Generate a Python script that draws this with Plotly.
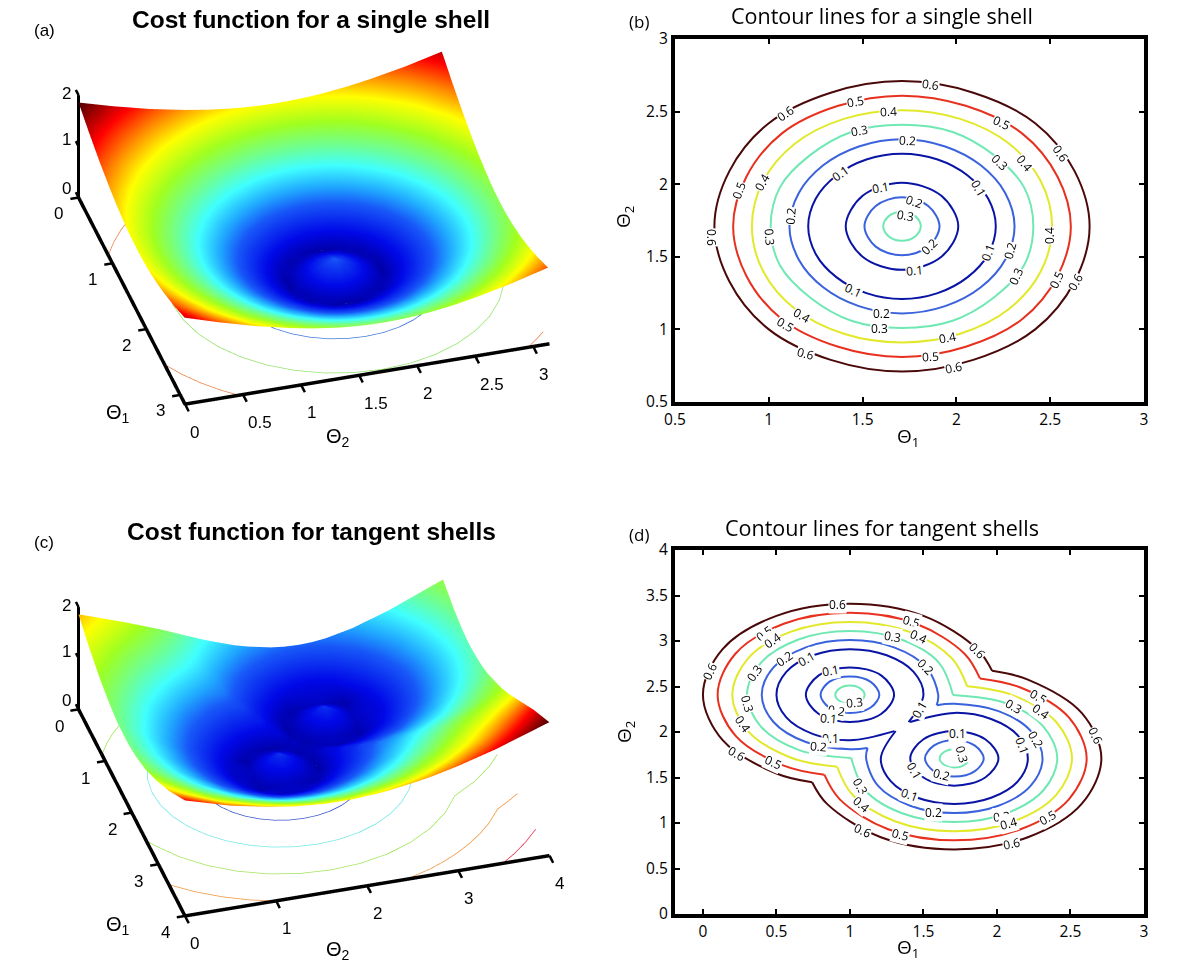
import plotly.graph_objects as go

# ---------- panel (a): surface samples ----------
a_theta1 = [0, .29, .61, .91, 1.11, 1.31, 1.41, 1.51, 1.61, 1.71, 1.81, 1.91, 2.01, 2.11, 2.31, 2.51, 2.81, 3.13]
a_theta2 = [0, .29, .61, .91, 1.11, 1.31, 1.41, 1.51, 1.61, 1.71, 1.81, 1.91, 2.01, 2.11, 2.31, 2.51, 2.81, 3.13]
a_r000 = [1.205,.938,.644,.368,.184,0,.092,.184,.276,.368,.276,.184,.092,0,.184,.368,.644,.938]
a_r010 = [1.208,.942,.648,.374,.191,.011,.077,.162,.238,.276,.238,.162,.077,.011,.191,.374,.648,.942]
a_r020 = [1.216,.951,.661,.391,.214,.043,.036,.108,.162,.184,.162,.108,.036,.043,.214,.391,.661,.951]
a_r030 = [1.229,.967,.681,.418,.249,.092,.022,.036,.077,.092,.077,.036,.022,.092,.249,.418,.681,.967]
a_r040 = [1.248,.989,.709,.455,.295,.153,.092,.043,.011,0,.011,.043,.092,.153,.295,.455,.709,.989]
a_r060 = [1.299,1.05,.785,.552,.413,.295,.249,.214,.191,.184,.191,.214,.249,.295,.413,.552,.785,1.05]
a_r080 = [1.37,1.132,.883,.673,.552,.455,.418,.391,.374,.368,.374,.391,.418,.455,.552,.673,.883,1.132]
a_r110 = [1.502,1.284,1.063,.883,.785,.709,.681,.661,.648,.644,.648,.661,.681,.709,.785,.883,1.063,1.284]
a_r142 = [1.677,1.479,1.284,1.132,1.05,.989,.967,.951,.942,.938,.942,.951,.967,.989,1.05,1.132,1.284,1.479]
a_r171 = [1.857,1.677,1.502,1.37,1.299,1.248,1.229,1.216,1.208,1.205,1.208,1.216,1.229,1.248,1.299,1.37,1.502,1.677]
cost_a = [a_r171, a_r142, a_r110, a_r080, a_r060, a_r040, a_r030, a_r020, a_r010, a_r000,
          a_r010, a_r020, a_r030, a_r040, a_r060, a_r080, a_r110, a_r142]

# ---------- panel (c): surface samples ----------
c_theta1 = [0,.4,.7,.85,1.0,1.15,1.3,1.45,1.56,1.71,1.86,2.01,2.2,2.5,2.9,3.4,4]
c_theta2 = [0,.5,.9,1.2,1.4,1.56,1.71,1.86,2.0,2.11,2.26,2.41,2.56,2.71,3.0,3.4,4]
c_y000 = [1.86,1.61,1.46,1.39,1.34,1.29,1.25,1.22,1.21,1.21,1.21,1.23,1.27,1.36,1.55,1.84,2.26]
c_y050 = [1.56,1.27,1.08,1.00,.92,.86,.81,.77,.75,.75,.75,.78,.83,.96,1.19,1.54,2.01]
c_y090 = [1.30,1.05,.82,.72,.62,.54,.47,.41,.39,.38,.39,.43,.50,.67,.96,1.36,1.87]
c_y120 = [1.08,.87,.67,.55,.44,.33,.23,.16,.12,.10,.12,.18,.28,.50,.82,1.26,1.79]
c_y140 = [.94,.71,.60,.47,.34,.22,.10,.00,.05,.08,.05,.03,.17,.41,.76,1.21,1.76]
c_y156 = [.84,.59,.46,.43,.30,.17,.03,.09,.17,.23,.17,.06,.10,.37,.74,1.19,1.74]
c_y171 = [.75,.48,.33,.29,.28,.15,.01,.13,.23,.37,.23,.09,.08,.36,.73,1.19,1.74]
c_y186 = [.68,.38,.21,.16,.14,.16,.03,.09,.17,.23,.17,.06,.10,.37,.74,1.19,1.74]
c_y200 = [.63,.30,.10,.03,.01,.03,.09,.01,.07,.10,.07,.02,.16,.41,.76,1.21,1.76]
c_y211 = [.59,.25,.02,.06,.09,.06,.02,.07,.02,.00,.02,.09,.21,.45,.79,1.23,1.77]
c_y226 = [.56,.20,.06,.17,.23,.17,.06,.07,.16,.14,.16,.21,.31,.52,.84,1.27,1.80]
c_y241 = [.55,.18,.09,.23,.37,.23,.09,.05,.15,.28,.29,.33,.42,.60,.90,1.31,1.84]
c_y256 = [.56,.20,.06,.17,.23,.17,.06,.07,.17,.30,.43,.46,.53,.70,.98,1.37,1.88]
c_y271 = [.59,.25,.02,.06,.09,.06,.02,.13,.22,.34,.47,.59,.66,.80,1.06,1.44,1.93]
c_y300 = [.70,.41,.24,.19,.17,.19,.24,.31,.38,.48,.59,.71,.86,1.02,1.25,1.59,2.05]
c_y340 = [.93,.70,.58,.55,.54,.55,.58,.63,.68,.75,.84,.93,1.06,1.29,1.53,1.83,2.25]
c_y400 = [1.36,1.20,1.12,1.10,1.09,1.10,1.12,1.15,1.18,1.23,1.30,1.37,1.46,1.64,1.91,2.25,2.61]
cost_c = [c_y000,c_y050,c_y090,c_y120,c_y140,c_y156,c_y171,c_y186,c_y200,c_y211,c_y226,c_y241,c_y256,c_y271,c_y300,c_y340,c_y400]

# ---------- tick values ----------
a_t1 = [0, 1, 2, 3]
a_t2 = [0, .5, 1, 1.5, 2, 2.5, 3]
c_t1 = [0, 1, 2, 3, 4]
c_t2 = [0, 1, 2, 3, 4]
z_ticks = [0, 1, 2]

# ---------- floor contours of the 3-D panels ----------
floor_09_x = [1.553,1.71,1.867,2.018,2.16,2.289,2.399,2.489,2.556,2.597,2.61,2.597,2.556,2.489,2.399,2.289]
floor_09_y = [.824,.81,.824,.864,.93,1.021,1.131,1.26,1.402,1.553,1.71,1.867,2.018,2.16,2.289,2.399]
floor_14_x = [1.71,1.954,2.189,2.41,2.61,2.782,2.922,3.026,3.089,3.11,3.089,3.026,2.922,2.782,2.61,2.41,2.189,1.954,1.71,1.466,1.231]
floor_14_y = [3.11,3.089,3.026,2.922,2.782,2.61,2.41,2.189,1.954,1.71,1.466,1.231,1.01,.81,.638,.498,.394,.331,.31,.331,.394]
a_or1_x = [2.54,2.717,2.88,3.03,3.14]
a_or1_y = [0,.099,.213,.344,.464]
a_or2_x = [3.14,3.05,2.956]
a_or2_y = [2.956,3.05,3.14]
left_19_x = [.877,.703,.54,.39,.254]
left_19_y = [0,.099,.213,.344,.488]
c_gr_x = [2.54,2.66,2.932,3.165,3.355,3.496,3.581,3.61,3.581,3.496,3.355,3.165,2.932,2.651,2.455,2.221,2.04]
c_gr_y = [0,.065,.255,.489,.76,1.06,1.379,1.71,2.041,2.36,2.66,2.931,3.165,3.356,3.631,3.865,4]
c_or1_x = [3.395,3.601,3.767,3.903,4]
c_or1_y = [0,.232,.474,.733,.99]
c_or2_x = [4,3.885,3.788,3.676,3.548,3.407,3.253,3.015,2.917,2.798]
c_or2_y = [2.43,2.725,2.91,3.087,3.253,3.407,3.548,3.72,3.855,4]
c_red_x = [4,3.865,3.688,3.487]
c_red_y = [3.487,3.65,3.83,4]

# ---------- panel (b) contours ----------
b06_x = [2.71,2.63,2.42,2.09,1.71,1.33,1.00,.79,.71,.79,1.00,1.33,1.71,2.09,2.42,2.63,2.71]
b06_y = [1.71,2.09,2.42,2.63,2.71,2.63,2.42,2.09,1.71,1.33,1.00,.79,.71,.79,1.00,1.33,1.71]
b05_x = [2.61,2.54,2.35,2.05,1.71,1.37,1.07,.88,.81,.88,1.07,1.37,1.71,2.05,2.35,2.54,2.61]
b05_y = [1.71,2.05,2.35,2.54,2.61,2.54,2.35,2.05,1.71,1.37,1.07,.88,.81,.88,1.07,1.37,1.71]
b04_x = [2.51,2.45,2.28,2.02,1.71,1.40,1.14,.97,.91,.97,1.14,1.40,1.71,2.02,2.28,2.45,2.51]
b04_y = [1.71,2.02,2.28,2.45,2.51,2.45,2.28,2.02,1.71,1.40,1.14,.97,.91,.97,1.14,1.40,1.71]
b03_x = [2.41,2.36,2.20,1.98,1.71,1.44,1.22,1.06,1.01,1.06,1.22,1.44,1.71,1.98,2.20,2.36,2.41]
b03_y = [1.71,1.98,2.20,2.36,2.41,2.36,2.20,1.98,1.71,1.44,1.22,1.06,1.01,1.06,1.22,1.44,1.71]
b02_x = [2.31,2.26,2.13,1.94,1.71,1.48,1.29,1.16,1.11,1.16,1.29,1.48,1.71,1.94,2.13,2.26,2.31]
b02_y = [1.71,1.94,2.13,2.26,2.31,2.26,2.13,1.94,1.71,1.48,1.29,1.16,1.11,1.16,1.29,1.48,1.71]
b01_x = [2.21,2.17,2.06,1.90,1.71,1.52,1.36,1.25,1.21,1.25,1.36,1.52,1.71,1.90,2.06,2.17,2.21]
b01_y = [1.71,1.90,2.06,2.17,2.21,2.17,2.06,1.90,1.71,1.52,1.36,1.25,1.21,1.25,1.36,1.52,1.71]
in01_x = [2.01,1.92,1.71,1.50,1.41,1.50,1.71,1.92,2.01]
in01_y = [1.71,1.92,2.01,1.92,1.71,1.50,1.41,1.50,1.71]
in02_x = [1.91,1.85,1.71,1.57,1.51,1.57,1.71,1.85,1.91]
in02_y = [1.71,1.85,1.91,1.85,1.71,1.57,1.51,1.57,1.71]
in03_x = [1.81,1.78,1.71,1.64,1.61,1.64,1.71,1.78,1.81]
in03_y = [1.71,1.78,1.81,1.78,1.71,1.64,1.61,1.64,1.71]

b_lab_x = [1.863,1.088,1.463,1.637,1.484,1.74,1.381,1.596,1.775,1.73,2.119,2.238,2.232,2.365,2.555,.842,.965,1.115,.695,1.002,2.50,2.285,2.17,1.857,1.775,2.318,2.535,2.637,1.453,1.602,1.592,1.176,1.088,1.955,1.863,1.193,1.986]
b_lab_y = [2.69,2.487,2.568,2.499,2.368,2.30,2.074,1.977,1.883,1.787,1.971,2.423,2.148,2.143,2.212,1.954,2.01,1.78,1.633,1.637,1.644,1.545,1.527,1.569,1.408,1.362,1.343,1.327,1.27,1.109,1.005,1.093,1.035,.941,.81,.833,.741]
b_lab_t = ["0.6","0.6","0.5","0.4","0.3","0.2","0.1","0.1","0.2","0.3","0.1","0.5","0.3","0.4","0.6","0.5","0.4","0.2","0.6","0.3","0.4","0.2","0.1","0.2","0.1","0.3","0.5","0.6","0.1","0.2","0.3","0.4","0.5","0.4","0.5","0.6","0.6"]
b_lab_a = [8,-35,-10,-3,-10,3,-35,-10,20,10,60,25,45,50,55,-70,-60,-85,90,85,-90,-75,-70,-45,-5,-65,-65,-60,25,0,0,30,30,-10,-3,15,-12]

# ---------- panel (d) contours: arcs meeting at the notches ----------
d06a_x = [1.967,1.866,1.5,1,.5,.134,0,.134,.5,.743]
d06a_y = [2.672,2.91,3.276,3.41,3.276,2.91,2.41,1.91,1.544,1.448]
d06b_x = [.743,.844,1.21,1.71,2.21,2.576,2.71,2.576,2.21,1.967]
d06b_y = [1.448,1.21,.844,.71,.844,1.21,1.71,2.21,2.576,2.672]
d05a_x = [1.884,1.779,1.45,1,.55,.221,.1,.221,.55,.826]
d05a_y = [2.589,2.86,3.189,3.31,3.189,2.86,2.41,1.96,1.631,1.531]
d05b_x = [.826,.931,1.26,1.71,2.16,2.489,2.61,2.489,2.16,1.884]
d05b_y = [1.531,1.26,.931,.81,.931,1.26,1.71,2.16,2.489,2.589]
d04a_x = [1.797,1.693,1.4,1,.6,.307,.2,.307,.6,.913]
d04a_y = [2.502,2.81,3.103,3.21,3.103,2.81,2.41,2.01,1.717,1.618]
d04b_x = [.913,1.017,1.31,1.71,2.11,2.403,2.51,2.403,2.11,1.797]
d04b_y = [1.618,1.31,1.017,.91,1.017,1.31,1.71,2.11,2.403,2.502]
d03a_x = [1.701,1.606,1.35,1,.65,.394,.3,.394,.65,1.009]
d03a_y = [2.406,2.76,3.016,3.11,3.016,2.76,2.41,2.06,1.804,1.714]
d03b_x = [1.009,1.104,1.36,1.71,2.06,2.316,2.41,2.316,2.06,1.701]
d03b_y = [1.714,1.36,1.104,1.01,1.104,1.36,1.71,2.06,2.316,2.406]
d02a_x = [1.59,1.6,1.52,1.3,1,.7,.48,.4,.48,.7,1,1.12]
d02a_y = [2.295,2.41,2.71,2.93,3.01,2.93,2.71,2.41,2.11,1.89,1.81,1.825]
d02b_x = [1.12,1.11,1.19,1.41,1.71,2.01,2.23,2.31,2.23,2.01,1.71,1.59]
d02b_y = [1.825,1.71,1.41,1.19,1.11,1.19,1.41,1.71,2.01,2.23,2.31,2.295]
d01a_x = [1.399,1.5,1.433,1.25,1,.75,.567,.5,.567,.75,1,1.301]
d01a_y = [2.109,2.41,2.66,2.843,2.91,2.843,2.66,2.41,2.16,1.977,1.91,2.01]
d01b_x = [1.311,1.21,1.277,1.46,1.71,1.96,2.143,2.21,2.143,1.96,1.71,1.409]
d01b_y = [2.011,1.71,1.46,1.277,1.21,1.277,1.46,1.71,1.96,2.143,2.21,2.11]
dA1_x = [1.3,1.212,1,.788,.7,.788,1,1.212,1.3]
dA1_y = [2.41,2.622,2.71,2.622,2.41,2.198,2.11,2.198,2.41]
dA2_x = [1.2,1.141,1,.859,.8,.859,1,1.141,1.2]
dA2_y = [2.41,2.551,2.61,2.551,2.41,2.269,2.21,2.269,2.41]
dA3_x = [1.1,1.07,1,.93,.9,.93,1,1.07,1.1]
dA3_y = [2.41,2.48,2.51,2.48,2.41,2.34,2.31,2.34,2.41]

d_lab_x = [.914,1.42,.417,.472,1.467,1.289,1.866,.555,.707,1.512,.045,.354,.87,1.032,.301,2.28,2.114,2.298,.909,.857,1.473,.267,2.67,1.729,2.264,2.172,.87,.786,.228,1.761,.482,1.438,1.622,1.072,1.402,1.079,1.569,2.03,2.345,2.075,1.087,1.341,2.101]
d_lab_y = [3.40,3.218,3.079,3.005,3.046,3.046,2.899,2.804,2.804,2.716,2.668,2.65,2.675,2.327,2.312,2.393,2.275,2.22,2.239,2.147,2.246,2.088,1.96,1.989,1.916,1.853,1.927,1.842,1.761,1.75,1.67,1.578,1.53,1.402,1.31,1.207,1.119,1.07,1.064,.998,.914,.877,.778]
d_lab_t = ["0.6","0.5","0.5","0.4","0.4","0.3","0.6","0.2","0.1","0.2","0.6","0.3","0.1","0.3","0.3","0.5","0.3","0.4","0.2","0.1","0.1","0.4","0.6","0.1","0.2","0.1","0.1","0.2","0.6","0.3","0.5","0.1","0.2","0.3","0.1","0.4","0.2","0.3","0.5","0.4","0.6","0.5","0.6"]
d_lab_a = [0,15,-35,-35,25,10,45,-35,-30,45,-65,-55,-10,-5,75,30,30,35,10,5,-60,55,65,0,60,70,0,5,30,75,25,60,15,60,20,40,0,-5,-30,-15,25,15,-12]

# ---------- styles ----------
C06, C05, C04, C03, C02, C01 = "#4a0808", "#e8301f", "#e2e82a", "#6fe8b4", "#3a62dc", "#0a14a4"
JET = [[0, "#0000a8"], [.08, "#0008e8"], [.2, "#1858f8"], [.27, "#20a8ff"], [.36, "#40ffff"], [.45, "#70ff90"],
       [.55, "#a0ff20"], [.66, "#ffff00"], [.75, "#ff9000"], [.86, "#ff0000"], [1, "#500000"]]
SANS = "Open Sans, Noto Sans, sans-serif"
HELV = "Liberation Sans, Arial, sans-serif"

fig = go.Figure()

def surf(x, y, z, scene):
    fig.add_trace(go.Surface(x=x, y=y, z=z, scene=scene, colorscale=JET, cmin=0,
                             cmax=max(max(r) for r in z), showscale=False, hoverinfo="skip",
                             lighting=dict(ambient=1, diffuse=0, specular=0, roughness=1, fresnel=0)))

def line3(x, y, z, scene, color, width):
    fig.add_trace(go.Scatter3d(x=x, y=y, z=z, scene=scene, mode="lines", hoverinfo="skip",
                               line=dict(color=color, width=width), showlegend=False))

def floor(x, y, scene, color):
    line3(x, y, [0] * len(x), scene, color, 1.5)

def ticks3(t1, t2, tz, end, scene, d1, d2, dz):
    xs, ys, zs = [], [], []
    for v in t1:
        xs += [v, v, None]; ys += [0, -d1, None]; zs += [0, 0, None]
    for v in t2:
        xs += [end, end + d2, None]; ys += [v, v, None]; zs += [0, 0, None]
    for v in tz:
        xs += [0, -dz, None]; ys += [0, 0, None]; zs += [v, v, None]
    line3(xs, ys, zs, scene, "black", 5)

surf(a_theta1, a_theta2, cost_a, "scene")
floor(floor_09_x, floor_09_y, "scene", "#3f78d8")
floor(floor_14_x, floor_14_y, "scene", "#93e36a")
floor(a_or1_x, a_or1_y, "scene", "#ef7f45")
floor(a_or2_x, a_or2_y, "scene", "#ef7f45")
floor(left_19_x, left_19_y, "scene", "#ef7f45")
line3([0, 3.14, 3.14], [0, 0, 3.14], [0, 0, 0], "scene", "black", 7)
line3([0, 0], [0, 0], [0, 2], "scene", "black", 6)
ticks3(a_t1, a_t2, z_ticks, 3.14, "scene", .07, .11, .08)

surf(c_theta1, c_theta2, cost_c, "scene2")
floor(floor_09_x, floor_09_y, "scene2", "#3a55c8")
floor(floor_14_x, floor_14_y, "scene2", "#72e8e8")
floor(c_gr_x, c_gr_y, "scene2", "#a0e458")
floor(left_19_x, left_19_y, "scene2", "#a0e458")
floor(c_or1_x, c_or1_y, "scene2", "#f0943c")
floor(c_or2_x, c_or2_y, "scene2", "#f0943c")
floor(c_red_x, c_red_y, "scene2", "#e0304a")
line3([0, 4, 4], [0, 0, 4], [0, 0, 0], "scene2", "black", 7)
line3([0, 0], [0, 0], [0, 2], "scene2", "black", 6)
ticks3(c_t1, c_t2, z_ticks, 4, "scene2", .09, .14, .1)

def contour(x, y, color, xa, ya):
    fig.add_trace(go.Scatter(x=x, y=y, xaxis=xa, yaxis=ya, mode="lines", hoverinfo="skip", showlegend=False,
                             line=dict(color=color, width=2, shape="spline", smoothing=1, simplify=False)))

for x, y, c in [(b06_x, b06_y, C06), (b05_x, b05_y, C05), (b04_x, b04_y, C04), (b03_x, b03_y, C03),
                (b02_x, b02_y, C02), (b01_x, b01_y, C01), (in01_x, in01_y, C01), (in02_x, in02_y, C02),
                (in03_x, in03_y, C03)]:
    contour(x, y, c, "x", "y")

for x, y, c in [(d06a_x, d06a_y, C06), (d06b_x, d06b_y, C06), (d05a_x, d05a_y, C05), (d05b_x, d05b_y, C05),
                (d04a_x, d04a_y, C04), (d04b_x, d04b_y, C04), (d03a_x, d03a_y, C03), (d03b_x, d03b_y, C03),
                (d02a_x, d02a_y, C02), (d02b_x, d02b_y, C02), (d01a_x, d01a_y, C01), (d01b_x, d01b_y, C01),
                (dA1_x, dA1_y, C01), (dA2_x, dA2_y, C02), (dA3_x, dA3_y, C03),
                (in01_x, in01_y, C01), (in02_x, in02_y, C02), (in03_x, in03_y, C03)]:
    contour(x, y, c, "x2", "y2")

ann = []
def labels(xs, ys, ts, ags, xr, yr):
    for x, y, t, a in zip(xs, ys, ts, ags):
        ann.append(dict(x=x, y=y, xref=xr, yref=yr, text=t, textangle=a, showarrow=False, bgcolor="white",
                        borderpad=0, font=dict(family=SANS, size=12, color="black")))

labels(b_lab_x, b_lab_y, b_lab_t, b_lab_a, "x", "y")
labels(d_lab_x, d_lab_y, d_lab_t, d_lab_a, "x2", "y2")

def ptext(t, px, py, size, family=HELV, bold=False, angle=0):
    ann.append(dict(x=px / 1200, y=1 - py / 965, xref="paper", yref="paper", text=f"<b>{t}</b>" if bold else t,
                    xanchor="center", yanchor="middle", showarrow=False, textangle=angle,
                    font=dict(family=family, size=size, color="black")))

ptext("(a)", 44, 30, 17)
ptext("(b)", 639, 22, 17, SANS)
ptext("(c)", 44, 542, 17)
ptext("(d)", 639, 534, 17, SANS)
ptext("Cost function for a single shell", 311, 19, 24.5, HELV, True)
ptext("Cost function for tangent shells", 311, 531, 24.5, HELV, True)
ptext("Contour lines for a single shell", 882, 16, 21.5, SANS)
ptext("Contour lines for tangent shells", 882, 527, 21.5, SANS)
ptext("Θ<sub>1</sub>", 118, 413, 20)
ptext("Θ<sub>2</sub>", 338, 438, 20)
ptext("Θ<sub>1</sub>", 118, 925, 20)
ptext("Θ<sub>2</sub>", 338, 950, 20)
ptext("Θ<sub>1</sub>", 908, 437, 19, SANS)
ptext("Θ<sub>2</sub>", 624, 217, 19, SANS, False, -90)
ptext("Θ<sub>1</sub>", 908, 948, 19, SANS)
ptext("Θ<sub>2</sub>", 625, 732, 19, SANS, False, -90)

def ax3(rng):
    return dict(title=dict(text=""), range=rng, showticklabels=False, ticks="", showgrid=False, zeroline=False,
                showbackground=False, showline=False, showspikes=False)

def cam(k):
    return dict(eye=dict(x=.791 * k, y=-.231 * k, z=.567 * k), up=dict(x=0, y=0, z=1), center=dict(x=0, y=0, z=0),
                projection=dict(type="orthographic"))

def tick_note(x, y, z, t, sx, sy):
    return dict(x=x, y=y, z=z, text=t, showarrow=False, xanchor="center", yanchor="middle", xshift=sx, yshift=sy,
                font=dict(family=HELV, size=17, color="black"))

a_notes = ([tick_note(v, 0, 0, f"{v:g}", -20, -16) for v in a_t1]
           + [tick_note(3.14, v, 0, f"{v:g}", 17 if v % 1 else 10, -28) for v in a_t2]
           + [tick_note(0, 0, v, f"{v:g}", -12, s) for v, s in zip(z_ticks, [9, 7, 2])])
c_notes = ([tick_note(v, 0, 0, f"{v:g}", -19.5, -17) for v in c_t1]
           + [tick_note(4, v, 0, f"{v:g}", 10, -27.5) for v in c_t2]
           + [tick_note(0, 0, v, f"{v:g}", -12, s) for v, s in zip(z_ticks, [9, 7, 2])])

def ax2(rng, vals, anchor, domain):
    return dict(range=rng, tickvals=vals, ticktext=[f"{v:g}" for v in vals], domain=domain, anchor=anchor,
                automargin=False, showgrid=False, zeroline=False, showline=True, linewidth=4, linecolor="black",
                mirror="ticks", ticks="inside", ticklen=5, tickwidth=2, tickcolor="black",
                tickfont=dict(family=SANS, size=15.5, color="black"))

X_DOM = [675 / 1200, 1144 / 1200]
K = 1.14
fig.update_layout(
    width=1200, height=965, margin=dict(l=0, r=0, t=0, b=0), autosize=False,
    paper_bgcolor="white", plot_bgcolor="white", showlegend=False, annotations=ann,
    scene=dict(domain=dict(x=[0, 628 / 1200], y=[1 - 439 / 965, 1]), aspectmode="manual",
               aspectratio=dict(x=1.862, y=1.862, z=.566), annotations=a_notes,
               xaxis=ax3([-.12, 3.26]), yaxis=ax3([-.12, 3.26]), zaxis=ax3([0, 2]), camera=cam(K)),
    scene2=dict(domain=dict(x=[0, 628 / 1200], y=[1 - 933 / 965, 1 - 494 / 965]), aspectmode="manual",
                aspectratio=dict(x=1.868, y=1.868, z=.763), annotations=c_notes,
                xaxis=ax3([-.16, 4.16]), yaxis=ax3([-.16, 4.16]), zaxis=ax3([0, 2.7]), camera=cam(K)),
    xaxis=ax2([.5, 3], [.5, 1, 1.5, 2, 2.5, 3], "y", X_DOM),
    yaxis=ax2([.5, 3], [.5, 1, 1.5, 2, 2.5, 3], "x", [1 - 402 / 965, 1 - 39 / 965]),
    xaxis2=ax2([-.19, 3], [0, .5, 1, 1.5, 2, 2.5, 3], "y2", X_DOM),
    yaxis2=ax2([0, 4], [0, .5, 1, 1.5, 2, 2.5, 3, 3.5, 4], "x2", [1 - 914 / 965, 1 - 550 / 965]),
)

fig.write_html("out.html", post_script="document.body.style.margin='0';", config=dict(displayModeBar=False))
